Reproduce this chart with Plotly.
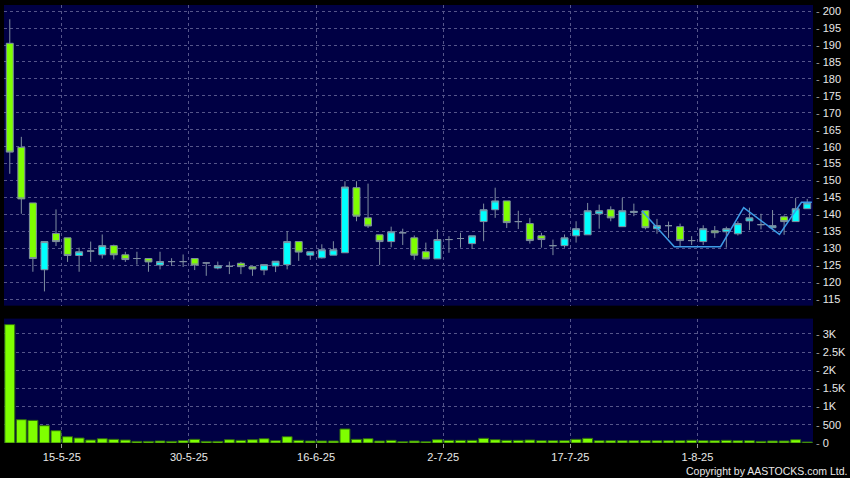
import plotly.graph_objects as go

# ---------------- data ----------------
dates = [
    "2025-05-08", "2025-05-09", "2025-05-12", "2025-05-13", "2025-05-14", "2025-05-15",
    "2025-05-16", "2025-05-19", "2025-05-20", "2025-05-21", "2025-05-22", "2025-05-23",
    "2025-05-26", "2025-05-27", "2025-05-28", "2025-05-29", "2025-05-30",
    "2025-06-02", "2025-06-03", "2025-06-04", "2025-06-05", "2025-06-06", "2025-06-09",
    "2025-06-10", "2025-06-11", "2025-06-12", "2025-06-13", "2025-06-16", "2025-06-17",
    "2025-06-18", "2025-06-19", "2025-06-20", "2025-06-23", "2025-06-24", "2025-06-25",
    "2025-06-26", "2025-06-27", "2025-06-30",
    "2025-07-02", "2025-07-03", "2025-07-04", "2025-07-07", "2025-07-08", "2025-07-09",
    "2025-07-10", "2025-07-11", "2025-07-14", "2025-07-15", "2025-07-16", "2025-07-17",
    "2025-07-18", "2025-07-21", "2025-07-22", "2025-07-23", "2025-07-24", "2025-07-25",
    "2025-07-28", "2025-07-29", "2025-07-30", "2025-07-31",
    "2025-08-01", "2025-08-04", "2025-08-05", "2025-08-06", "2025-08-07", "2025-08-08",
    "2025-08-11", "2025-08-12", "2025-08-13", "2025-08-14",
]

open_ = [190.5, 159.8, 143.4, 123.7, 134.4, 133.1, 127.9, 129.2, 128.1, 130.8,
         128.1, 127.0, 127.0, 125.1, 126.1, 126.1, 127.0, 125.7, 124.2, 124.7,
         125.6, 124.6, 123.6, 124.8, 125.2, 132.0, 128.0, 127.2, 128.0, 128.7,
         147.9, 139.0, 134.0, 132.0, 134.6, 133.1, 129.0, 126.9, 132.6, 132.9,
         131.4, 137.9, 141.4, 144.0, 137.9, 137.3, 133.7, 130.8, 130.8, 133.7,
         134.0, 140.2, 141.4, 136.4, 140.6, 141.1, 135.8, 136.7, 136.4, 132.3,
         132.0, 135.2, 134.9, 134.3, 138.1, 137.0, 136.1, 139.3, 137.9, 141.7]
high = [197.6, 162.9, 143.4, 132.0, 141.5, 133.1, 130.2, 132.0, 134.1, 131.1,
        129.0, 129.0, 127.0, 129.0, 127.1, 128.2, 127.0, 125.7, 126.1, 126.1,
        126.0, 124.6, 125.2, 126.2, 135.1, 132.0, 129.0, 131.2, 132.1, 149.8,
        149.8, 149.1, 134.0, 136.4, 135.8, 133.8, 131.7, 135.6, 133.6, 134.6,
        133.7, 143.2, 147.9, 144.0, 141.1, 139.0, 134.6, 132.6, 134.1, 138.0,
        143.4, 142.9, 142.4, 144.9, 143.2, 141.1, 138.7, 137.9, 137.3, 133.6,
        136.8, 136.6, 136.4, 138.0, 142.0, 140.2, 141.3, 139.7, 144.9, 144.6]
low = [152.0, 140.2, 123.1, 117.3, 130.7, 126.0, 123.1, 126.0, 127.0, 126.7,
       126.0, 125.2, 123.1, 123.8, 124.8, 124.5, 123.6, 121.9, 123.8, 122.4,
       122.4, 121.9, 122.1, 123.0, 123.8, 126.3, 126.6, 127.0, 128.0, 128.7,
       138.0, 136.0, 125.1, 130.3, 131.0, 126.6, 126.9, 126.9, 128.7, 130.2,
       129.8, 132.1, 139.0, 136.0, 135.7, 131.4, 130.2, 128.0, 130.2, 131.7,
       134.0, 135.8, 138.0, 136.4, 139.5, 135.6, 134.3, 133.1, 130.7, 131.0,
       131.0, 133.1, 130.2, 133.8, 135.4, 135.6, 135.8, 134.0, 137.9, 141.7]
close = [158.4, 144.6, 127.0, 132.0, 132.0, 127.9, 129.0, 129.2, 130.8, 128.1,
         126.7, 127.0, 126.0, 126.1, 126.1, 126.1, 125.1, 125.7, 124.9, 124.7,
         124.6, 123.9, 125.2, 126.2, 132.0, 128.9, 129.0, 129.6, 129.6, 148.1,
         139.5, 136.6, 132.0, 134.9, 134.6, 128.0, 126.9, 132.6, 132.6, 132.9,
         133.7, 141.4, 144.0, 137.6, 137.9, 132.3, 132.6, 130.8, 133.1, 135.8,
         141.1, 141.1, 139.0, 141.1, 140.9, 136.1, 136.7, 136.7, 132.3, 132.3,
         135.8, 134.6, 135.8, 137.3, 139.0, 137.0, 136.7, 137.9, 141.7, 143.4]

volume = [3255, 641, 622, 476, 338, 173, 137, 82, 118, 100,
          82, 45, 45, 55, 45, 64, 100, 45, 45, 91,
          73, 91, 118, 64, 173, 73, 55, 55, 55, 385,
          100, 118, 55, 73, 37, 55, 37, 91, 73, 73,
          73, 128, 91, 73, 73, 82, 64, 64, 64, 100,
          128, 64, 64, 64, 64, 64, 64, 64, 64, 73,
          64, 64, 73, 64, 64, 45, 55, 55, 91, 27]

# blue indicator line (candle index position, price)
line_pos = [54.7, 57.5, 61.5, 63.5, 66.6, 68.5, 69.4]
line_price = [141.0, 130.5, 130.5, 142.0, 134.1, 143.6, 143.6]

tick_dates = ["2025-05-15", "2025-05-30", "2025-06-16", "2025-07-02", "2025-07-17", "2025-08-01"]
tick_labels = ["15-5-25", "30-5-25", "16-6-25", "2-7-25", "17-7-25", "1-8-25"]

price_ticks = list(range(115, 201, 5))
vol_ticks = [0, 500, 1000, 1500, 2000, 2500, 3000]
vol_tick_labels = ["0", "500", "1K", "1.5K", "2K", "2.5K", "3K"]

# ---------------- figure ----------------
xpos = list(range(len(dates)))
tick_pos = [dates.index(d) - 0.5 for d in tick_dates]

NAVY = "#000044"
GRID = "#55558a"
GREEN = "#7fff00"
CYAN = "#00ffff"
OUTLINE = "#7f8ea0"
FONT = "Liberation Sans"

fig = go.Figure()

fig.add_trace(go.Candlestick(
    x=xpos, open=open_, high=high, low=low, close=close,
    increasing=dict(fillcolor=CYAN, line=dict(color=OUTLINE, width=1)),
    decreasing=dict(fillcolor=GREEN, line=dict(color=OUTLINE, width=1)),
    whiskerwidth=0, hoverinfo="skip", xaxis="x", yaxis="y", showlegend=False,
))

fig.add_trace(go.Scatter(
    x=line_pos, y=line_price, mode="lines",
    line=dict(color="#3d9be6", width=1.5),
    hoverinfo="skip", xaxis="x", yaxis="y", showlegend=False,
))

fig.add_trace(go.Bar(
    x=xpos, y=volume, marker=dict(color=GREEN, line=dict(color="#2f6a10", width=1)),
    width=0.86, hoverinfo="skip", xaxis="x2", yaxis="y2", showlegend=False,
))

def lab(t):
    return "<span style='color:#9a9a9a'>-</span> " + t

fig.update_layout(
    width=850, height=478,
    margin=dict(l=4, r=34, t=5, b=35),
    paper_bgcolor="#000000",
    plot_bgcolor=NAVY,
    boxgap=0.14,
    bargap=0.14,
    font=dict(family=FONT, size=11, color="#e8e8e8"),
    xaxis=dict(
        domain=[0, 1], anchor="y", range=[-0.5, len(dates) - 0.5],
        tickvals=tick_pos, showticklabels=False, ticks="",
        showgrid=True, gridcolor=GRID, griddash="3px,3px", gridwidth=1,
        zeroline=False, showline=False, rangeslider=dict(visible=False),
    ),
    yaxis=dict(
        domain=[0.3136, 1], anchor="x", side="right",
        range=[113.1, 201.8], tickvals=price_ticks,
        ticktext=[lab(str(v)) for v in price_ticks], ticks="",
        showgrid=True, gridcolor=GRID, griddash="3px,3px", gridwidth=1,
        zeroline=False, showline=False, ticklabelstandoff=2,
    ),
    xaxis2=dict(
        domain=[0, 1], anchor="y2", matches="x", range=[-0.5, len(dates) - 0.5],
        tickvals=tick_pos, ticktext=tick_labels, ticks="outside", ticklen=4,
        tickcolor="#9a9a9a", tickfont=dict(size=11, color="#e8e8e8"),
        showgrid=True, gridcolor=GRID, griddash="3px,3px", gridwidth=1,
        zeroline=False, showline=False,
    ),
    yaxis2=dict(
        domain=[0, 0.284], anchor="x2", side="right",
        range=[0, 3420], tickvals=vol_ticks,
        ticktext=[lab(t) for t in vol_tick_labels], ticks="",
        showgrid=True, gridcolor=GRID, griddash="3px,3px", gridwidth=1,
        zeroline=False, showline=False, ticklabelstandoff=2,
    ),
    annotations=[dict(
        text="Copyright by AASTOCKS.com Ltd.", xref="paper", yref="paper",
        x=1.044, y=-0.065, xanchor="right", yanchor="middle", showarrow=False,
        font=dict(family=FONT, size=10.5, color="#e8e8e8"),
    )],
)

fig.write_html(
    "out.html",
    config={"displayModeBar": False, "staticPlot": True},
    post_script="document.body.style.margin='0';document.body.style.padding='0';"
                "document.body.style.overflow='hidden';document.body.style.background='#000';",
)
